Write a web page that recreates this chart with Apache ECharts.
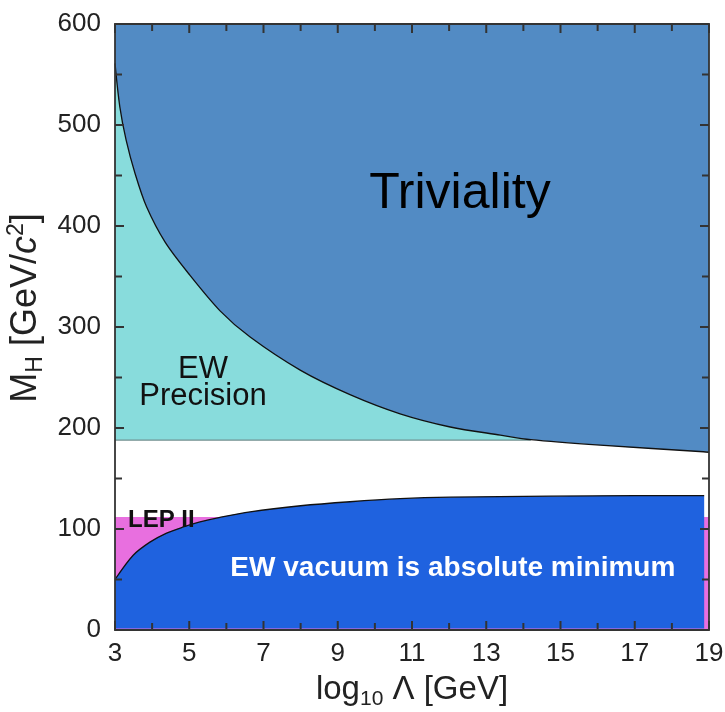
<!DOCTYPE html>
<html><head><meta charset="utf-8">
<script src="https://cdn.jsdelivr.net/npm/echarts@6/dist/echarts.min.js"></script>
<style>html,body{margin:0;padding:0;background:#fff}#c{width:725px;height:712px}</style>
</head><body><div id="c"></div>
<script>
// ---- data ----
const xTickLabels = [3,5,7,9,11,13,15,17,19];
const xMinorTicks = [4,6,8,10,12,14,16,18];
const yTickLabels = [0,100,200,300,400,500,600];
const yMinorTicks = [50,150,250,350,450,550];
const trivialityX = [3.0,3.13,3.30,3.54,3.85,4.35,4.98,5.83,6.64,8.0,9.33,10.68,12.03,13.38,14.2,16.07,18.85,19.0];
const trivialityM = [561,518,485,452,419,384,353,316,290,257,233,214,201,193,188.5,183,176.5,176];
const vacuumX = [3.0,3.49,3.94,4.39,4.84,5.29,5.83,6.64,8.0,9.33,10.68,12.03,14.7,17.0,18.87];
const vacuumM = [50,74,87,96,102,107,111.5,117,123,127,130,131.5,132.5,133,133];
const ewPrecisionX = [3, 14.2];
const ewPrecisionM = [188, 188];
const lepX = [3, 19];
const lepM = [112, 112];
const annoTriviality = [12.29, 431];
const annoEW = [5.37, 245];
const annoLEP = [3.35, 109];
const annoVacuum = [12.1, 61];

const FONT = '"Liberation Sans", Arial, Helvetica, sans-serif';
const AXIS_COLOR = '#333333';
const zip = (xs, ys) => xs.map((x, i) => [x, ys[i]]);
const X_MIN = 3, X_MAX = 19, Y_MIN = 0, Y_MAX = 600;

const chart = echarts.init(document.getElementById('c'), null, {renderer: 'canvas'});

const axisCommon = {
  z: 10,
  axisLine: {show: true, onZero: false, lineStyle: {color: AXIS_COLOR, width: 1.8}},
  axisTick: {show: false},
  minorTick: {show: false},
  splitLine: {show: false},
  minorSplitLine: {show: false}
};

const option = {
  animation: false,
  backgroundColor: '#ffffff',
  grid: {left: 115, right: 16, top: 24, bottom: 82, containLabel: false, outerBoundsMode: 'none'},
  xAxis: [
    Object.assign({
      type: 'value', min: X_MIN, max: X_MAX, interval: 2, position: 'bottom',
      axisLabel: {show: true, fontSize: 26, color: '#222', fontFamily: FONT, margin: 11,
        formatter: v => xTickLabels.includes(v) ? String(v) : ''},
      name: '{a|log}{s|10}{a| Λ [GeV]}',
      nameLocation: 'middle', nameGap: 40,
      nameTextStyle: {rich: {
        a: {fontSize: 33, color: '#222', fontFamily: FONT, lineHeight: 40},
        s: {fontSize: 21, color: '#222', fontFamily: FONT, lineHeight: 14, verticalAlign: 'bottom'}
      }}
    }, axisCommon),
    Object.assign({
      type: 'value', min: X_MIN, max: X_MAX, interval: 2, position: 'top',
      axisLabel: {show: false}
    }, axisCommon)
  ],
  yAxis: [
    Object.assign({
      type: 'value', min: Y_MIN, max: Y_MAX, interval: 100, position: 'left',
      axisLabel: {show: true, fontSize: 26, color: '#222', fontFamily: FONT, margin: 14,
        formatter: v => yTickLabels.includes(v) ? String(v) : ''},
      name: '{a|M}{s|H}{a| [GeV/}{i|c}{p|2}{a|]}',
      nameLocation: 'middle', nameGap: 68, nameRotate: 90,
      nameTextStyle: {padding: [0, 0, 0, 38], rich: {
        a: {fontSize: 36, color: '#222', fontFamily: FONT, lineHeight: 42},
        i: {fontSize: 36, color: '#222', fontFamily: FONT, lineHeight: 42, fontStyle: 'italic'},
        s: {fontSize: 23, color: '#222', fontFamily: FONT, lineHeight: 14, verticalAlign: 'bottom'},
        p: {fontSize: 23, color: '#222', fontFamily: FONT, lineHeight: 26, verticalAlign: 'top'}
      }}
    }, axisCommon),
    Object.assign({
      type: 'value', min: Y_MIN, max: Y_MAX, interval: 100, position: 'right',
      axisLabel: {show: false}
    }, axisCommon)
  ],
  series: [
    {
      name: 'LEP II', type: 'line', data: zip(lepX, lepM), symbol: 'none', silent: true, z: 1,
      lineStyle: {width: 0}, areaStyle: {color: '#E86FDF', opacity: 1, origin: 'start'}
    },
    {
      name: 'EW vacuum', type: 'line', data: zip(vacuumX, vacuumM), symbol: 'none', silent: true, z: 1,
      smooth: 0.3,
      lineStyle: {color: '#111', width: 1.3}, areaStyle: {color: '#1F62DF', opacity: 1, origin: 1.5}
    },
    {
      name: 'EW Precision', type: 'line', data: zip(ewPrecisionX, ewPrecisionM), symbol: 'none', silent: true, z: 1,
      lineStyle: {color: '#6f8f8f', width: 1.2}, areaStyle: {color: '#88DCDC', opacity: 1, origin: 'end'}
    },
    {
      name: 'Triviality', type: 'line', data: zip(trivialityX, trivialityM), symbol: 'none', silent: true, z: 1,
      smooth: 0.3,
      lineStyle: {color: '#111', width: 1.3}, areaStyle: {color: '#528BC4', opacity: 1, origin: 'end'}
    },
    {
      name: 'labels', type: 'scatter', symbolSize: 0, silent: true, z: 8,
      itemStyle: {color: 'transparent', opacity: 1},
      data: [
        {value: annoTriviality, label: {show: true, position: 'inside', formatter: 'Triviality',
          fontSize: 50, color: '#000', fontFamily: FONT}},
        {value: annoEW, label: {show: true, position: 'inside', formatter: 'EW\nPrecision',
          fontSize: 31, lineHeight: 27, align: 'center', color: '#111', fontFamily: FONT}},
        {value: annoLEP, label: {show: true, position: 'right', distance: 0, formatter: 'LEP II',
          fontSize: 24, fontWeight: 'bold', color: '#111', fontFamily: FONT}},
        {value: annoVacuum, label: {show: true, position: 'inside', formatter: 'EW vacuum is absolute minimum',
          fontSize: 28, fontWeight: 'bold', color: '#fff', fontFamily: FONT}}
      ]
    }
  ]
};
chart.setOption(option);

// inward ticks on all four sides, positioned through the chart's own scales
const px = p => chart.convertToPixel({gridIndex: 0}, p);
const tickLines = [];
const seg = (x1, y1, x2, y2) => ({type: 'line', silent: true, z: 100,
  shape: {x1, y1, x2, y2}, style: {stroke: AXIS_COLOR, lineWidth: 2}});
function xTick(v, len) {
  const b = px([v, Y_MIN]), t = px([v, Y_MAX]);
  tickLines.push(seg(b[0], b[1], b[0], b[1] - len), seg(t[0], t[1], t[0], t[1] + len));
}
function yTick(v, len) {
  const l = px([X_MIN, v]), r = px([X_MAX, v]);
  tickLines.push(seg(l[0], l[1], l[0] + len, l[1]), seg(r[0], r[1], r[0] - len, r[1]));
}
xTickLabels.forEach(v => xTick(v, 9));
xMinorTicks.forEach(v => xTick(v, 7));
yTickLabels.forEach(v => yTick(v, 9));
yMinorTicks.forEach(v => yTick(v, 7));
chart.setOption({graphic: {elements: tickLines}});
</script></body></html>
